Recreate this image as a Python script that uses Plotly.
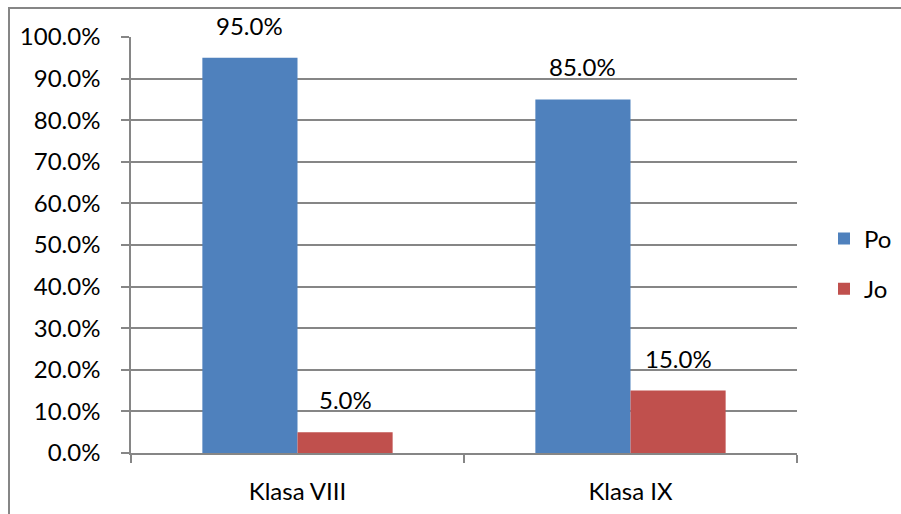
import plotly.graph_objects as go

# Chart data
categories = ["Klasa VIII", "Klasa IX"]
series_names = ["Po", "Jo"]
po_values = [0.95, 0.85]
jo_values = [0.05, 0.15]
y_tick_values = [0.0, 0.1, 0.2, 0.3, 0.4, 0.5, 0.6, 0.7, 0.8, 0.9, 1.0]

# Styling
W, H = 901, 514
M_L, M_R, M_T, M_B = 131, 104, 37, 61
FONT = "Lato"
FS = 24
GRID = "#868686"
COLORS = ["#4F81BD", "#C0504D"]
BARGAP = 1.5 / 3.5
LABEL_SHIFT = 16

fig = go.Figure()
for k, (name, vals) in enumerate(zip(series_names, [po_values, jo_values])):
    fig.add_trace(go.Bar(
        x=categories, y=vals, name=name,
        marker=dict(color=COLORS[k], line=dict(width=0)),
        legendgroup=name,
    ))

# value labels above each bar
bar_w = (1 - BARGAP) / len(series_names)
for k, vals in enumerate([po_values, jo_values]):
    offset = (k - (len(series_names) - 1) / 2) * bar_w
    for i, v in enumerate(vals):
        fig.add_annotation(
            x=i + offset, y=v, xref="x", yref="y",
            text=f"{v * 100:.1f}%", showarrow=False,
            yanchor="bottom", yshift=LABEL_SHIFT,
            font=dict(family=FONT, size=FS, color="black"),
        )

# outer chart border (left/top edges visible, right/bottom run off the frame)
pw, ph = W - M_L - M_R, H - M_T - M_B
x0 = (9 - M_L) / pw
y1 = (H - 8 - M_B) / ph
fig.add_shape(type="rect", xref="paper", yref="paper",
              x0=x0, x1=(W + 10 - M_L) / pw, y0=(-10 - M_B) / ph, y1=y1,
              line=dict(color=GRID, width=2), layer="below")

fig.update_layout(
    width=W, height=H,
    margin=dict(l=M_L, r=M_R, t=M_T, b=M_B, autoexpand=False),
    paper_bgcolor="white", plot_bgcolor="white",
    barmode="group", bargap=BARGAP, bargroupgap=0,
    font=dict(family=FONT, size=FS, color="black"),
    legend=dict(x=(824 - M_L) / pw, y=(H - M_B - 264) / ph,
                xanchor="left", yanchor="middle",
                tracegroupgap=16, font=dict(size=FS),
                itemwidth=30, bgcolor="rgba(0,0,0,0)"),
    xaxis=dict(showline=True, linecolor=GRID, linewidth=1.5,
               ticks="outside", tickson="boundaries", ticklen=8,
               tickcolor=GRID, tickwidth=1.5, showgrid=False,
               ticklabelstandoff=16, tickfont=dict(size=FS)),
    yaxis=dict(range=[0, 1], tickvals=y_tick_values, tickformat=".1%",
               showline=True, linecolor=GRID, linewidth=1.5,
               ticks="outside", ticklen=8, tickcolor=GRID, tickwidth=1.5,
               showgrid=True, gridcolor=GRID, gridwidth=1.5,
               zeroline=False, ticklabelstandoff=16, tickfont=dict(size=FS)),
)

fig.write_html("out.html")
